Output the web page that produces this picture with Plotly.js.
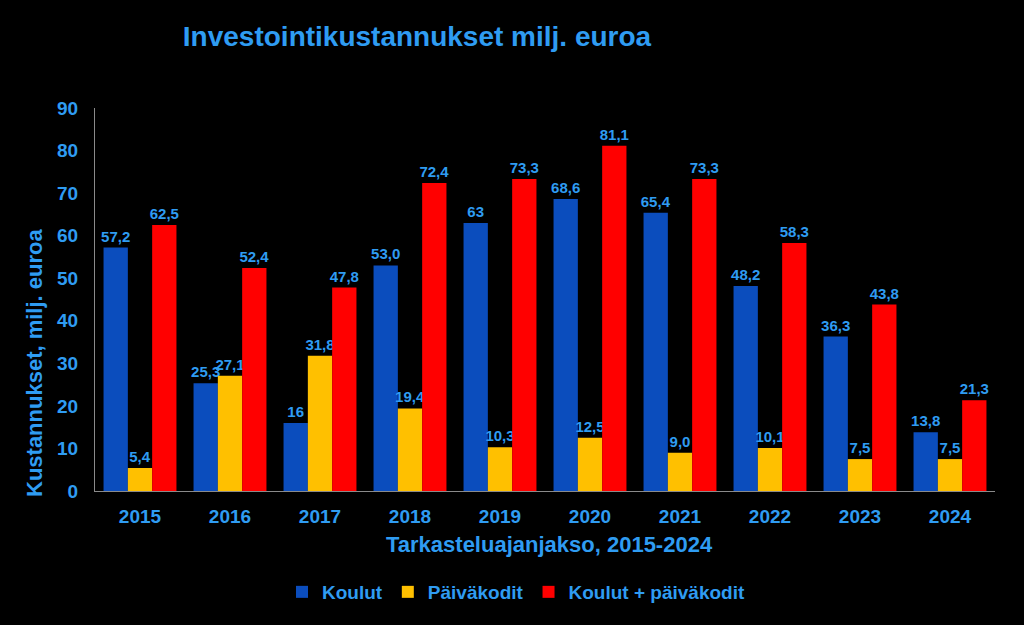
<!DOCTYPE html>
<html><head><meta charset="utf-8">
<script src="https://cdn.plot.ly/plotly-3.0.1.min.js"></script>
<style>html,body{margin:0;padding:0;background:#000;}</style>
</head><body><div id="chart" style="width:1024px;height:625px;"></div>
<script>
const years = ['2015','2016','2017','2018','2019','2020','2021','2022','2023','2024'];
const koulut = [57.2, 25.3, 16, 53.0, 63, 68.6, 65.4, 48.2, 36.3, 13.8];
const koulutLabels = ['57,2','25,3','16','53,0','63','68,6','65,4','48,2','36,3','13,8'];
const paivakodit = [5.4, 27.1, 31.8, 19.4, 10.3, 12.5, 9.0, 10.1, 7.5, 7.5];
const paivakoditLabels = ['5,4','27,1','31,8','19,4','10,3','12,5','9,0','10,1','7,5','7,5'];
const yhteensa = [62.5, 52.4, 47.8, 72.4, 73.3, 81.1, 73.3, 58.3, 43.8, 21.3];
const yhteensaLabels = ['62,5','52,4','47,8','72,4','73,3','81,1','73,3','58,3','43,8','21,3'];

const txtColor = '#2f9cf2';
const fam = 'Liberation Sans, Arial, sans-serif';
const labelFont = {family: fam, size: 15, color: txtColor, weight: 'bold'};

function series(name, y, text, color) {
  return {type: 'bar', name: name, x: years, y: y, text: text,
    textposition: 'outside', textfont: labelFont, constraintext: 'none',
    cliponaxis: false, marker: {color: color}, hoverinfo: 'x+y'};
}
const data = [
  series('Koulut', koulut, koulutLabels, '#0b4dbd'),
  series('Päiväkodit', paivakodit, paivakoditLabels, '#ffc000'),
  series('Koulut + päiväkodit', yhteensa, yhteensaLabels, '#ff0000')
];
const L = 95, R = 995, T = 108, B = 491;
const layout = {
  width: 1024, height: 625,
  paper_bgcolor: '#000', plot_bgcolor: '#000',
  margin: {l: L, r: 1024 - R, t: T, b: 625 - B},
  barmode: 'group', bargap: 0.19, bargroupgap: 0,
  font: {family: fam, color: txtColor},
  title: {text: 'Investointikustannukset milj. euroa', xref: 'container', x: 417/1024, xanchor: 'center',
    yref: 'container', y: 1 - 36/625, yanchor: 'middle',
    font: {family: fam, size: 28, color: txtColor, weight: 'bold'}},
  xaxis: {type: 'category', showline: true, linecolor: '#8a8a8a', linewidth: 1, ticks: '',
    ticklabelstandoff: 8,
    tickfont: {family: fam, size: 19, color: txtColor, weight: 'bold'}},
  yaxis: {range: [0, 90], dtick: 10, showgrid: false, zeroline: false,
    showline: true, linecolor: '#8a8a8a', linewidth: 1, ticks: '',
    ticklabelstandoff: 12,
    tickfont: {family: fam, size: 19, color: txtColor, weight: 'bold'}},
  annotations: [
    {text: 'Kustannukset, milj. euroa', textangle: -90, showarrow: false,
      xref: 'paper', x: (34 - L) / (R - L), xanchor: 'center',
      yref: 'paper', y: (B - 363) / (B - T), yanchor: 'middle',
      font: {family: fam, size: 22, color: txtColor, weight: 'bold'}},
    {text: 'Tarkasteluajanjakso, 2015-2024', showarrow: false,
      xref: 'paper', x: (549 - L) / (R - L), xanchor: 'center',
      yref: 'paper', y: (B - 544) / (B - T), yanchor: 'middle',
      font: {family: fam, size: 22, color: txtColor, weight: 'bold'}}
  ],
  legend: {orientation: 'h', xref: 'container', x: 516/1024, xanchor: 'center',
    yref: 'container', y: 1 - 592/625, yanchor: 'middle',
    font: {family: fam, size: 19, color: txtColor, weight: 'bold'},
    itemwidth: 30, tracegroupgap: 0},
  showlegend: true
};
Plotly.newPlot('chart', data, layout, {displayModeBar: false});
</script></body></html>
